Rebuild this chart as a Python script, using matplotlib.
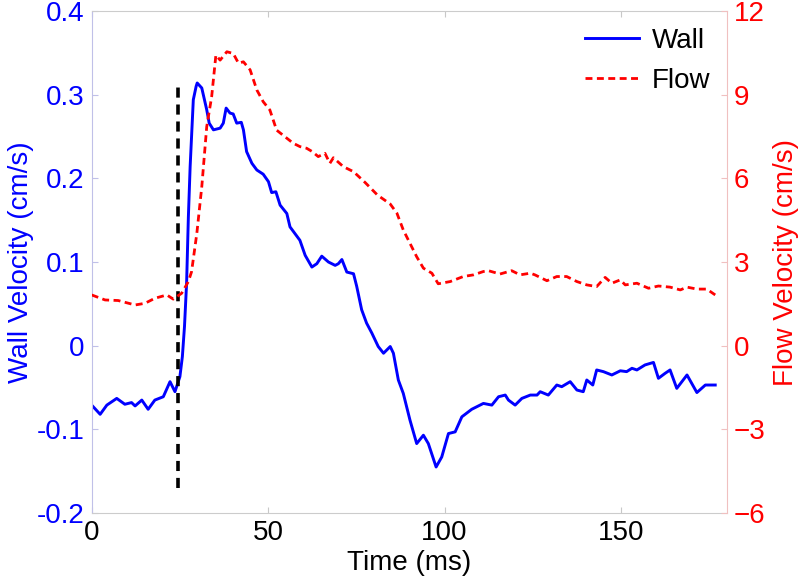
import numpy as np
import matplotlib
matplotlib.use("Agg")
import matplotlib.pyplot as plt

plt.rcParams['font.family'] = ['Liberation Sans', 'DejaVu Sans']

# wall velocity (cm/s) vs time (ms)
t_wall = [0, 2.4, 4.3, 7.1, 9.4, 11.3, 12.3, 14.2, 16.0, 17.9, 20.3, 22.2, 23.6, 25.0,
          25.7, 26.3, 26.9, 27.4, 27.9, 28.8, 29.6, 29.9, 31.2, 32.6, 33.3, 34.5, 36.4,
          37.3, 38.1, 39.2, 40.1, 41.1, 42.4, 43.0, 43.9, 45.4, 46.8, 48.6, 50.1, 51.0,
          52.2, 53.4, 55.3, 56.2, 57.6, 59.0, 60.5, 62.4, 63.8, 65.2, 67.1, 69.0, 69.9,
          70.9, 72.3, 74.2, 75.1, 75.9, 76.5, 77.9, 79.4, 81.2, 82.7, 84.6, 85.5, 86.9,
          88.3, 90.2, 92.1, 94.0, 95.4, 97.6, 99.2, 101.1, 103.0, 104.9, 107.7, 111.0,
          113.4, 115.3, 117.2, 118.1, 120.0, 121.9, 124.3, 126.2, 127.1, 129.4, 131.8,
          133.2, 135.6, 137.5, 139.3, 140.3, 142.0, 143.1, 145.0, 147.4, 149.8, 151.6,
          153.1, 154.5, 156.8, 159.2, 160.6, 162.5, 163.9, 165.8, 168.7, 171.5, 173.9,
          176.7]
v_wall = [-0.071, -0.082, -0.071, -0.063, -0.070, -0.068, -0.072, -0.065, -0.076, -0.065,
          -0.061, -0.043, -0.055, -0.037, -0.013, 0.023, 0.075, 0.154, 0.214, 0.294,
          0.310, 0.314, 0.308, 0.282, 0.266, 0.258, 0.260, 0.266, 0.284, 0.278, 0.277,
          0.266, 0.267, 0.258, 0.232, 0.218, 0.210, 0.205, 0.196, 0.183, 0.184, 0.168,
          0.158, 0.142, 0.134, 0.126, 0.108, 0.094, 0.098, 0.107, 0.100, 0.096, 0.098,
          0.103, 0.088, 0.086, 0.071, 0.055, 0.043, 0.027, 0.015, -0.001, -0.009, -0.001,
          -0.009, -0.041, -0.057, -0.089, -0.117, -0.107, -0.117, -0.145, -0.133, -0.105,
          -0.103, -0.085, -0.076, -0.069, -0.071, -0.061, -0.059, -0.065, -0.071, -0.063,
          -0.059, -0.059, -0.055, -0.059, -0.047, -0.049, -0.043, -0.053, -0.055, -0.041,
          -0.047, -0.029, -0.031, -0.035, -0.030, -0.031, -0.027, -0.029, -0.023, -0.020,
          -0.039, -0.033, -0.029, -0.051, -0.035, -0.056, -0.047, -0.047]

# flow velocity (cm/s) vs time (ms)
t_flow = [0, 3.8, 7.5, 12.3, 15.1, 17.9, 21.3, 23.1, 25.5, 27.4, 28.3, 29.8, 31.2, 32.6,
          34.0, 35.2, 36.4, 38.3, 40.1, 41.6, 43.0, 44.9, 46.8, 48.6, 50.5, 52.4, 54.8,
          57.1, 59.0, 60.9, 62.5, 64.2, 66.1, 67.5, 68.5, 71.3, 74.2, 77.5, 81.0, 84.6,
          86.5, 88.3, 90.2, 92.1, 94.0, 96.4, 98.2, 101.6, 105.3, 108.2, 111.0, 112.4,
          115.7, 119.0, 121.4, 124.3, 125.6, 129.0, 131.8, 134.6, 137.5, 140.3, 143.1,
          145.5, 147.4, 149.8, 151.2, 154.5, 157.8, 160.6, 163.9, 166.8, 168.7, 171.5,
          174.3, 176.7]
v_flow = [1.82, 1.64, 1.62, 1.46, 1.52, 1.70, 1.82, 1.67, 1.88, 2.30, 2.65, 4.03, 5.70,
          7.85, 8.93, 10.42, 10.24, 10.54, 10.48, 10.13, 10.18, 9.89, 9.17, 8.75, 8.45,
          7.73, 7.49, 7.26, 7.14, 7.08, 6.96, 6.78, 6.90, 6.54, 6.74, 6.42, 6.24, 5.85,
          5.40, 5.08, 4.75, 4.15, 3.67, 3.19, 2.78, 2.60, 2.22, 2.30, 2.48, 2.54, 2.66,
          2.69, 2.57, 2.69, 2.54, 2.60, 2.54, 2.33, 2.48, 2.48, 2.30, 2.18, 2.12, 2.45,
          2.24, 2.36, 2.18, 2.24, 2.06, 2.14, 2.10, 2.00, 2.10, 2.03, 2.03, 1.82]

# onset marker
t_onset = 24.5
onset_range = [-0.17, 0.31]

blue = '#0000ff'
red = '#ff0000'
fs = 20

fig = plt.figure(figsize=(8, 5.81), dpi=100)
ax = fig.add_axes([0.1146, 0.117, 0.794, 0.864])
ax2 = ax.twinx()

l1, = ax.plot(t_wall, v_wall, color=blue, lw=2.1, label='Wall')
ax.plot([t_onset, t_onset], onset_range, color='black', lw=2.6, dashes=(2.8, 1.9))
l2, = ax2.plot(t_flow, v_flow, color=red, lw=2, dashes=(2.5, 1.6), label='Flow')

ax.set_xlim(0, 180)
ax.set_ylim(-0.2, 0.4)
ax2.set_ylim(-6, 12)
ax.set_xticks([0, 50, 100, 150])
ax.set_yticks([-0.2, -0.1, 0, 0.1, 0.2, 0.3, 0.4])
ax.set_yticklabels(['-0.2', '-0.1', '0', '0.1', '0.2', '0.3', '0.4'])
ax2.set_yticks([-6, -3, 0, 3, 6, 9, 12])

ax.tick_params(axis='x', direction='in', length=4, top=True, colors='#c8c8c8',
               labelcolor='black', labelsize=fs, pad=5)
ax.tick_params(axis='y', direction='in', length=4, right=False, colors='#c0c0e8',
               labelcolor=blue, labelsize=fs, pad=5)
ax2.tick_params(axis='y', direction='in', length=4, colors='#f0c0c0',
                labelcolor=red, labelsize=fs, pad=5)

for s in ['top', 'bottom']:
    ax.spines[s].set_color('#cccccc')
ax.spines['left'].set_color('#c0c0e8')
ax.spines['right'].set_visible(False)
ax2.spines['right'].set_color('#f0c0c0')
for s in ['top', 'bottom', 'left']:
    ax2.spines[s].set_visible(False)

ax.set_xlabel('Time (ms)', fontsize=fs, labelpad=3)
ax.set_ylabel('Wall Velocity (cm/s)', fontsize=fs, color=blue, labelpad=2)
ax2.set_ylabel('Flow Velocity (cm/s)', fontsize=fs, color=red, labelpad=5)

ax2.legend([l1, l2], ['Wall', 'Flow'], loc='upper right', frameon=False,
           fontsize=fs, handlelength=1.95, handletextpad=0.45, labelspacing=0.5,
           borderaxespad=0.2, bbox_to_anchor=(1.0, 1.0))

fig.savefig('out.png', dpi=100)
